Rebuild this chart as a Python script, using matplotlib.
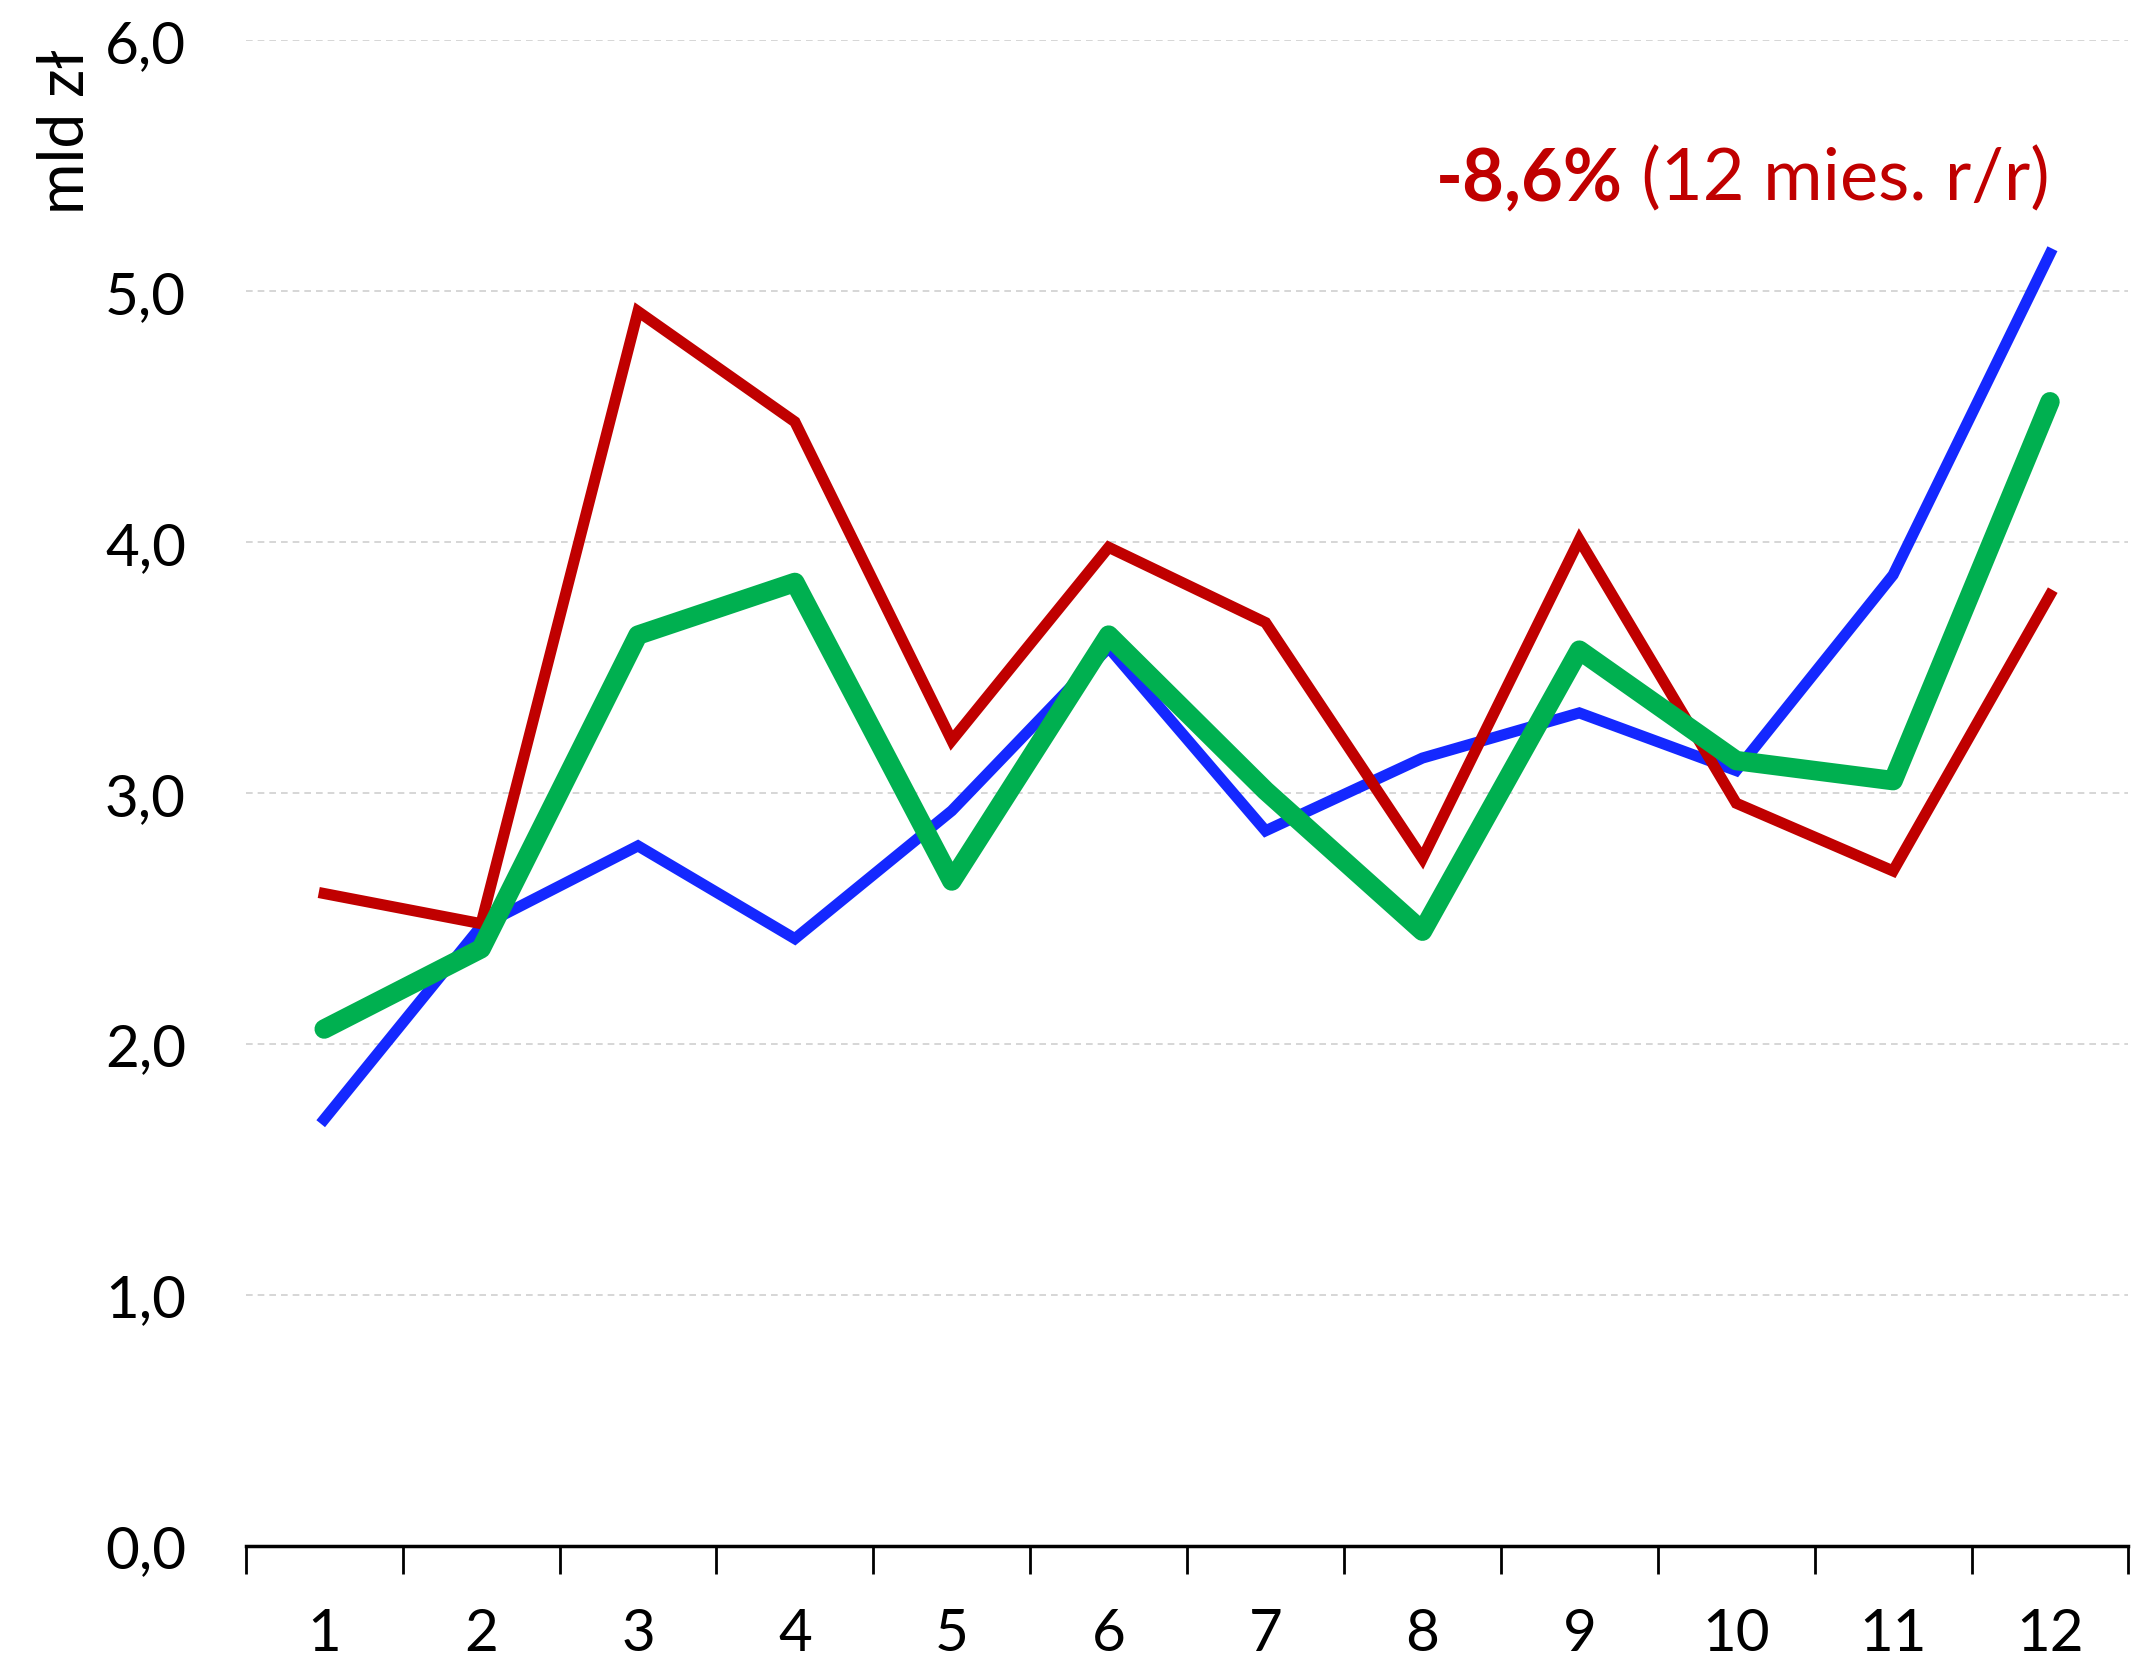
import matplotlib
matplotlib.use("Agg")
import matplotlib.pyplot as plt
import numpy as np

# Data
months = [1, 2, 3, 4, 5, 6, 7, 8, 9, 10, 11, 12]
blue_vals = [1.70, 2.47, 2.79, 2.42, 2.93, 3.58, 2.85, 3.14, 3.32, 3.09, 3.87, 5.15]
red_vals = [2.60, 2.48, 4.92, 4.48, 3.21, 3.98, 3.68, 2.74, 4.01, 2.96, 2.69, 3.79]
green_vals = [2.06, 2.38, 3.63, 3.84, 2.65, 3.63, 3.01, 2.45, 3.57, 3.13, 3.05, 4.56]
y_ticks = [0, 1, 2, 3, 4, 5, 6]
y_labels = ["0,0", "1,0", "2,0", "3,0", "4,0", "5,0", "6,0"]
note_bold = "-8,6%"
note_rest = " (12 mies. r/r)"

plt.rcParams['font.family'] = ['Lato', 'DejaVu Sans']

fig = plt.figure(figsize=(21.37, 16.58), dpi=100)
ax = fig.add_axes([0.115, 0.067, 0.881, 0.908])

ax.plot(months, blue_vals, color='#1428FF', lw=8, solid_joinstyle='miter', zorder=3)
ax.plot(months, red_vals, color='#C00000', lw=8, solid_joinstyle='miter', zorder=4)
ax.plot(months, green_vals, color='#00B050', lw=14, solid_capstyle='round',
        solid_joinstyle='round', zorder=5)

ax.set_xlim(0.5, 12.5)
ax.set_ylim(0, 6)

ax.set_yticks(y_ticks)
ax.set_yticklabels(y_labels)
ax.yaxis.grid(True, color='#d0d0d0', ls=(0, (4, 3)), lw=1.2)
ax.set_axisbelow(True)

# category boundaries get the tick marks, labels sit in between
ax.set_xticks(np.arange(0.5, 13, 1.0))
ax.set_xticklabels([])
ax.set_xticks(months, minor=True)
ax.set_xticklabels([str(m) for m in months], minor=True)
ax.tick_params(axis='x', which='major', direction='out', length=20, width=2, color='black')
ax.tick_params(axis='x', which='minor', length=0, pad=44, labelsize=42)
ax.tick_params(axis='y', length=0, pad=43, labelsize=42)

for s in ['left', 'right', 'top']:
    ax.spines[s].set_visible(False)
ax.spines['bottom'].set_linewidth(2.5)

fig.text(0.031, 0.970, "mld zł", rotation=90, ha='center', va='top', fontsize=45)

t1 = fig.text(0.672, 0.879, note_bold, color='#C00000',
              fontsize=52, fontweight='bold', ha='left', va='baseline')
fig.canvas.draw()
bb = t1.get_window_extent()
x_end = bb.x1 / fig.bbox.width
fig.text(x_end, 0.879, note_rest, color='#C00000',
         fontsize=52, ha='left', va='baseline')

fig.savefig("out.png", dpi=100)
